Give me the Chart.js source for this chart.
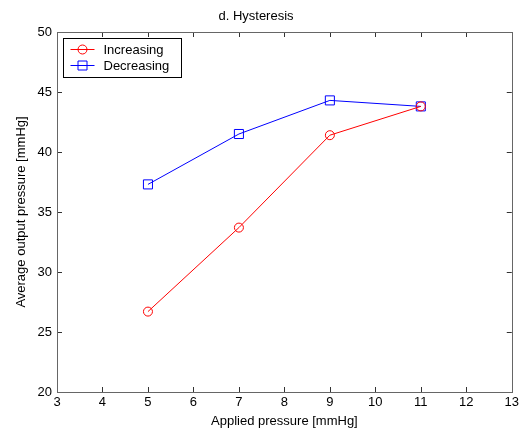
<!DOCTYPE html>
<html>
<head>
<meta charset="utf-8">
<script src="https://cdn.jsdelivr.net/npm/chart.js@4"></script>
<style>
  html, body { margin: 0; padding: 0; background: #fff; }
</style>
</head>
<body>
<canvas id="chart" width="522" height="431"></canvas>
<script>
// Data
const appliedPressure = [5, 7, 9, 11];
const increasing = [26.7, 33.7, 41.4, 43.8];
const decreasing = [37.3, 41.5, 44.3, 43.8];
const xTicks = [3, 4, 5, 6, 7, 8, 9, 10, 11, 12, 13];
const yTicks = [20, 25, 30, 35, 40, 45, 50];

const FONT = 'Arial, "Liberation Sans", sans-serif';

// box round the axes with inward ticks on all four sides (matlab look)
const frame = {
  id: 'frame',
  afterDatasetsDraw(chart) {
    const { ctx, chartArea: a, scales: { x, y } } = chart;
    ctx.save();
    ctx.lineWidth = 1;
    ctx.strokeStyle = '#333';
    ctx.beginPath();
    xTicks.forEach((v) => {
      const px = Math.round(x.getPixelForValue(v)) + 0.5;
      ctx.moveTo(px, a.bottom); ctx.lineTo(px, a.bottom - 5);
      ctx.moveTo(px, a.top); ctx.lineTo(px, a.top + 5);
    });
    yTicks.forEach((v) => {
      const py = Math.round(y.getPixelForValue(v)) + 0.5;
      ctx.moveTo(a.left, py); ctx.lineTo(a.left + 5, py);
      ctx.moveTo(a.right, py); ctx.lineTo(a.right - 5, py);
    });
    ctx.stroke();
    ctx.strokeStyle = '#666';
    ctx.strokeRect(Math.round(a.left) + 0.5, Math.round(a.top) + 0.5,
      Math.round(a.right - a.left), Math.round(a.bottom - a.top));
    ctx.restore();
  }
};

// legend box in the upper left corner of the axes
const boxLegend = {
  id: 'boxLegend',
  afterDraw(chart) {
    const { ctx, chartArea: a } = chart;
    const left = Math.round(a.left) + 6.5;
    const top = Math.round(a.top) + 6.5;
    ctx.save();
    ctx.fillStyle = '#fff';
    ctx.strokeStyle = '#000';
    ctx.lineWidth = 1;
    ctx.fillRect(left, top, 118, 39);
    ctx.strokeRect(left, top, 118, 39);
    chart.data.datasets.forEach((ds, i) => {
      const cy = top + 11 + i * 16;
      ctx.strokeStyle = ds.borderColor;
      ctx.beginPath();
      ctx.moveTo(left + 7, cy); ctx.lineTo(left + 31, cy);
      ctx.stroke();
      ctx.beginPath();
      if (ds.pointStyle === 'rect') {
        ctx.rect(left + 19 - 4.5, cy - 4.5, 9, 9);
      } else {
        ctx.arc(left + 19, cy, 4.5, 0, Math.PI * 2);
      }
      ctx.stroke();
      ctx.fillStyle = '#000';
      ctx.font = '13px ' + FONT;
      ctx.textBaseline = 'middle';
      ctx.fillText(ds.label, left + 40, cy + 1);
    });
    ctx.restore();
  }
};

new Chart(document.getElementById('chart'), {
  type: 'line',
  data: {
    datasets: [
      {
        label: 'Increasing',
        data: appliedPressure.map((v, i) => ({ x: v, y: increasing[i] })),
        borderColor: '#ff0000',
        backgroundColor: 'transparent',
        borderWidth: 1,
        pointStyle: 'circle',
        pointRadius: 4.5,
        pointBorderWidth: 1,
        tension: 0,
      },
      {
        label: 'Decreasing',
        data: appliedPressure.map((v, i) => ({ x: v, y: decreasing[i] })),
        borderColor: '#0000ff',
        backgroundColor: 'transparent',
        borderWidth: 1,
        pointStyle: 'rect',
        pointRadius: 6.4,
        pointBorderWidth: 1,
        tension: 0,
      },
    ],
  },
  options: {
    responsive: false,
    animation: false,
    layout: { padding: { left: 0, right: 10, top: 0, bottom: 0 } },
    plugins: {
      legend: { display: false },
      tooltip: { enabled: false },
      title: {
        display: true,
        text: 'd. Hysteresis',
        color: '#000',
        font: { family: FONT, size: 13, weight: 'normal' },
        padding: { top: 9, bottom: 7.4 },
      },
    },
    scales: {
      x: {
        type: 'linear',
        min: 3,
        max: 13,
        afterBuildTicks: (s) => { s.ticks = xTicks.map((v) => ({ value: v })); },
        afterFit: (s) => { s.height = 39; },
        grid: { display: false, drawTicks: false },
        border: { display: false },
        ticks: { color: '#000', padding: 3, maxRotation: 0, font: { family: FONT, size: 13 } },
        title: {
          display: true,
          text: 'Applied pressure [mmHg]',
          color: '#000',
          font: { family: FONT, size: 13 },
          padding: { top: 0, bottom: 2 },
        },
      },
      y: {
        min: 20,
        max: 50,
        afterBuildTicks: (s) => { s.ticks = yTicks.map((v) => ({ value: v })); },
        afterFit: (s) => { s.width = 57; },
        grid: { display: false, drawTicks: false },
        border: { display: false },
        ticks: { color: '#000', padding: 5, font: { family: FONT, size: 13 } },
        title: {
          display: true,
          text: 'Average output pressure [mmHg]',
          color: '#000',
          font: { family: FONT, size: 13 },
          padding: { top: 14, bottom: 0 },
        },
      },
    },
  },
  plugins: [frame, boxLegend],
});
</script>
</body>
</html>
